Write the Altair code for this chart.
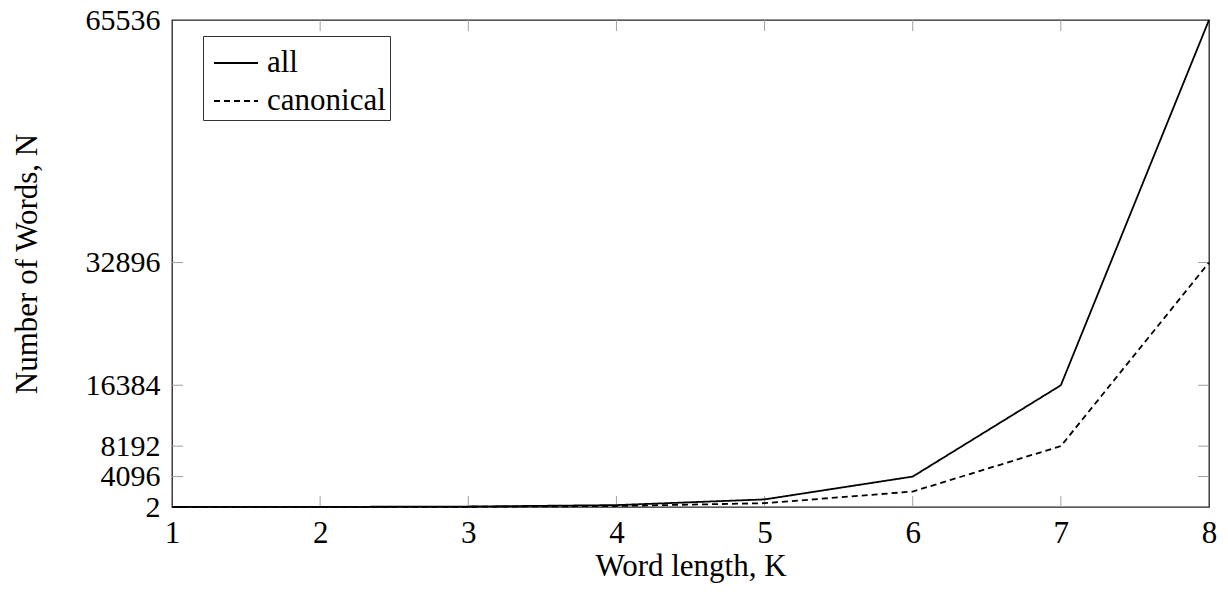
import altair as alt
import pandas as pd

K = [1, 2, 3, 4, 5, 6, 7, 8]
all_words = [4, 16, 64, 256, 1024, 4096, 16384, 65536]
canonical_words = [2, 10, 32, 136, 512, 2080, 8192, 32896]
series_names = ["all", "canonical"]
x_ticks = [1, 2, 3, 4, 5, 6, 7, 8]
y_ticks = [2, 4096, 8192, 16384, 32896, 65536]
x_inner_ticks = [2, 3, 4, 5, 6, 7]
y_inner_ticks = [4096, 8192, 16384, 32896]

W, H = 1037, 487
FONT = "Liberation Serif"
FS = 31
YFS = 30
TICK = 11
TICK_COLOR = "#a0a0a0"

rows = []
for k, a, c in zip(K, all_words, canonical_words):
    rows.append({"K": k, "N": a, "series": series_names[0]})
    rows.append({"K": k, "N": c, "series": series_names[1]})
df = pd.DataFrame(rows)

xscale = alt.Scale(domain=[1, 8], nice=False, zero=False)
yscale = alt.Scale(domain=[2, 65536], nice=False, zero=False)

lines = alt.Chart(df).mark_line(color="black", strokeWidth=1.8).encode(
    x=alt.X("K:Q", scale=xscale,
            axis=alt.Axis(values=x_ticks, title="Word length, K", grid=False,
                          domain=False, ticks=False, labelFont=FONT, labelFontSize=FS,
                          labelColor="black", labelPadding=11, labelFlush=False,
                          labelOverlap=False,
                          titleFont=FONT, titleFontSize=FS, titleFontWeight="normal",
                          titleColor="black", titlePadding=3, format="d")),
    y=alt.Y("N:Q", scale=yscale,
            axis=alt.Axis(values=y_ticks, title="Number of Words, N", grid=False,
                          domain=False, ticks=False, labelFont=FONT, labelFontSize=YFS,
                          labelColor="black", labelPadding=12, labelFlush=False,
                          labelOverlap=False,
                          titleFont=FONT, titleFontSize=FS, titleFontWeight="normal",
                          titleColor="black", titlePadding=42, format="d")),
    strokeDash=alt.StrokeDash("series:N",
                              scale=alt.Scale(domain=series_names, range=[[1, 0], [6, 4]]),
                              legend=alt.Legend(title=None, orient="none", legendX=31, legendY=16,
                                                strokeColor="#333333", fillColor="white",
                                                padding=4, labelFont=FONT, labelFontSize=FS,
                                                labelColor="black", symbolType="stroke",
                                                symbolSize=1936, symbolStrokeWidth=1.8,
                                                symbolStrokeColor="black", rowPadding=0,
                                                labelOffset=8, symbolOffset=6)),
)

xt = pd.DataFrame({"t": x_inner_ticks})
yt = pd.DataFrame({"t": y_inner_ticks})

xb = alt.Chart(xt).mark_rule(color=TICK_COLOR, strokeWidth=1).encode(
    x=alt.X("t:Q", scale=xscale), y=alt.value(H), y2=alt.value(H - TICK))
xtop = alt.Chart(xt).mark_rule(color=TICK_COLOR, strokeWidth=1).encode(
    x=alt.X("t:Q", scale=xscale), y=alt.value(0), y2=alt.value(TICK))
yl = alt.Chart(yt).mark_rule(color=TICK_COLOR, strokeWidth=1).encode(
    y=alt.Y("t:Q", scale=yscale), x=alt.value(0), x2=alt.value(TICK))
yr = alt.Chart(yt).mark_rule(color=TICK_COLOR, strokeWidth=1).encode(
    y=alt.Y("t:Q", scale=yscale), x=alt.value(W - TICK), x2=alt.value(W))

chart = alt.layer(xb, xtop, yl, yr, lines).properties(
    width=W, height=H,
    autosize=alt.AutoSizeParams(type="none"),
    padding={"left": 172, "top": 20, "right": 19, "bottom": 85},
    background="white",
).configure_view(stroke="#222222", strokeWidth=1.3)

chart.save("out.html", embed_options={"renderer": "svg", "actions": False})
